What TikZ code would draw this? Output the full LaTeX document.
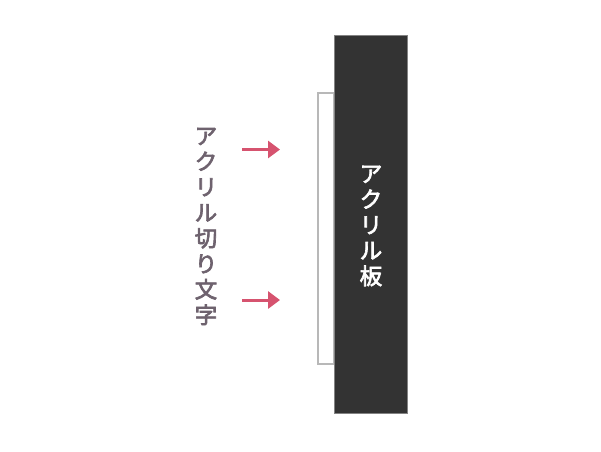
\documentclass[tikz,border=0pt]{standalone}
\usepackage{fontspec}
\newfontfamily\cjk[FakeBold=3]{Noto Sans CJK JP}
\usetikzlibrary{arrows.meta}
\definecolor{panel}{HTML}{333333}
\definecolor{edge}{HTML}{B8B8B8}
\definecolor{arrowred}{HTML}{D6536F}
\definecolor{labelgray}{HTML}{6E626E}
\tikzset{
  vtext/.style={align=center, inner sep=0pt, font=\cjk\fontsize{22.5}{25.6}\selectfont},
  pusharrow/.style={draw=arrowred, line width=3pt, -{Triangle[length=12pt,width=17pt]}}
}
\begin{document}
\begin{tikzpicture}[x=1pt,y=-1pt]
\useasboundingbox[fill=white] (0,0) rectangle (601,451);
\node[draw=edge, line width=2pt, minimum width=16pt, minimum height=271pt, inner sep=0pt] (cut) at (326,228.5) {};
\node[fill=panel, draw=edge!60!panel, line width=0.6pt, minimum width=72.5pt, minimum height=377.5pt, inner sep=0pt] (plate) at (371,224.5) {};
\node[vtext, text=white] (platelabel) at (371,226) {ア\\ク\\リ\\ル\\板};
\node[vtext, text=labelgray] (cutlabel) at (206,226.5) {ア\\ク\\リ\\ル\\切\\り\\文\\字};
\coordinate (a1s) at (242,149.5);
\coordinate (a1e) at (280,149.5);
\coordinate (a2s) at (242,300);
\coordinate (a2e) at (280,300);
\draw[pusharrow] (a1s) -- (a1e);
\draw[pusharrow] (a2s) -- (a2e);
\end{tikzpicture}
\end{document}
